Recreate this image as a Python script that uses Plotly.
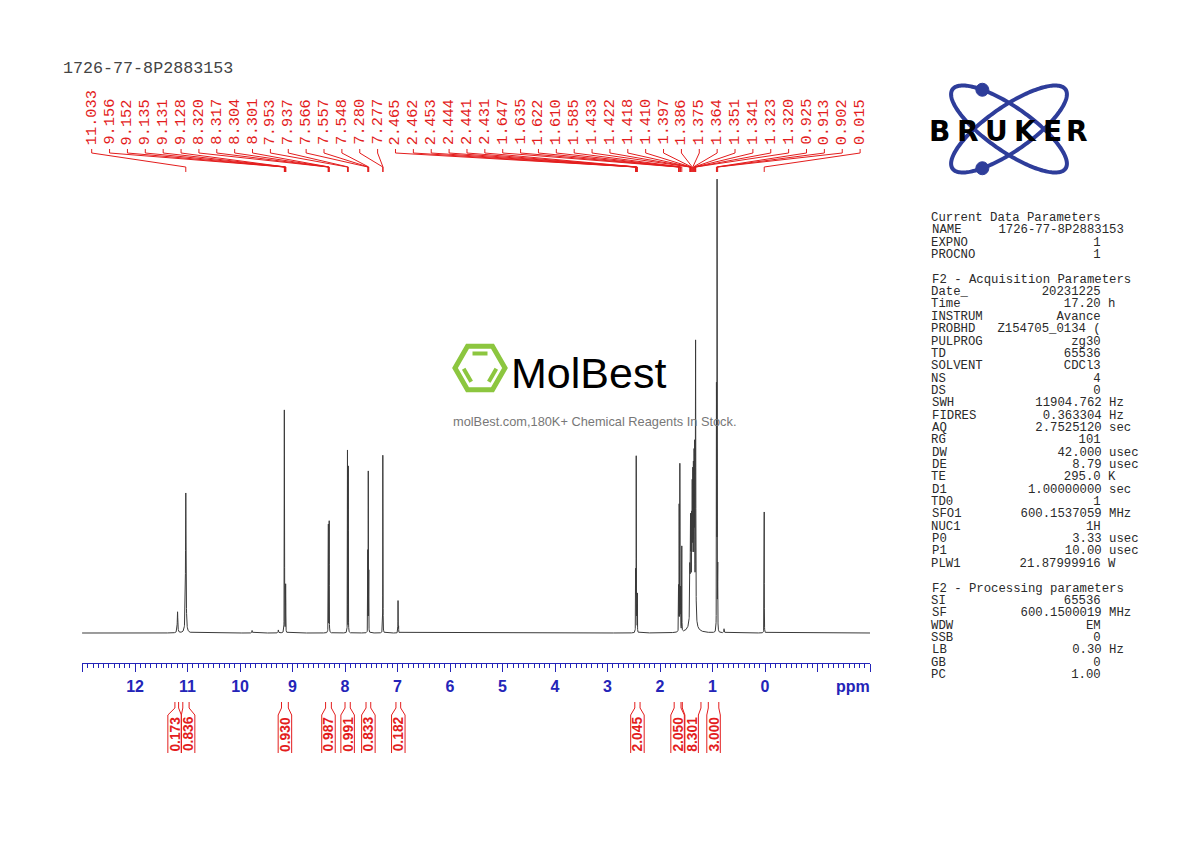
import numpy as np
import plotly.graph_objects as go

# ---------------- data ----------------
sample_name = "1726-77-8P2883153"

# spectrum lines: position (ppm), height (px-units), line width (ppm)
peak_ppm = [11.190, 11.033, 9.770, 9.270,
            9.156, 9.152, 9.135, 9.131, 9.128,
            8.320, 8.317, 8.304, 8.301,
            7.953, 7.937,
            7.566, 7.557, 7.548,
            7.280, 7.277,
            6.990, 6.981,
            2.465, 2.462, 2.453, 2.444, 2.441, 2.431,
            1.647, 1.635, 1.622, 1.610, 1.585,
            1.433, 1.422, 1.418, 1.410, 1.397, 1.386, 1.375, 1.364, 1.351, 1.341, 1.323, 1.320, 1.380,
            0.925, 0.913, 0.902, 0.780,
            0.015]
peak_height = [21, 140, 2.5, 3,
               205, 200, 35, 40, 33,
               85, 95, 90, 98,
               182, 166,
               80, 159, 82,
               160, 120,
               32, 16,
               55, 50, 174, 50, 55, 38,
               45, 125, 165, 120, 85,
               50, 62, 66, 75, 90, 105, 115, 125, 140, 155, 196, 145, 28,
               245, 448, 235, 4,
               121]
peak_width = [0.012, 0.012, 0.01, 0.01,
              0.0025, 0.0025, 0.0025, 0.0025, 0.0025,
              0.0025, 0.0025, 0.0025, 0.0025,
              0.0025, 0.0025,
              0.0025, 0.0025, 0.0025,
              0.0025, 0.0025,
              0.003, 0.003,
              0.0025, 0.0025, 0.0025, 0.0025, 0.0025, 0.0025,
              0.003, 0.003, 0.003, 0.003, 0.003,
              0.006, 0.006, 0.006, 0.006, 0.006, 0.006, 0.006, 0.006, 0.006, 0.006, 0.006, 0.006, 0.08,
              0.0025, 0.0025, 0.0025, 0.01,
              0.003]

# peak pick labels (ppm)
peak_labels = ["11.033", "9.156", "9.152", "9.135", "9.131", "9.128",
               "8.320", "8.317", "8.304", "8.301", "7.953", "7.937",
               "7.566", "7.557", "7.548", "7.280", "7.277",
               "2.465", "2.462", "2.453", "2.444", "2.441", "2.431",
               "1.647", "1.635", "1.622", "1.610", "1.585",
               "1.433", "1.422", "1.418", "1.410", "1.397", "1.386", "1.375",
               "1.364", "1.351", "1.341", "1.323", "1.320",
               "0.925", "0.913", "0.902", "0.015"]

# integrals
integral_values = ["0.173", "0.836", "0.930", "0.987", "0.991", "0.833", "0.182",
                   "2.045", "2.050", "8.301", "3.000"]
integral_from = [11.24, 11.09, 9.21, 8.37, 8.00, 7.60, 7.03, 2.48, 1.73, 1.575, 1.08]
integral_to = [11.17, 10.97, 9.08, 8.26, 7.90, 7.51, 6.94, 2.38, 1.60, 1.22, 0.88]

# axis ticks
tick_values = list(range(-2, 14))
tick_labels = [str(v) if 0 <= v <= 12 else "" for v in tick_values]

# parameter block
current_params = [("NAME", "1726-77-8P2883153", ""), ("EXPNO", "1", ""), ("PROCNO", "1", "")]
acq_params = [("Date_", "20231225", ""), ("Time", "17.20", "h"), ("INSTRUM", "Avance", ""),
              ("PROBHD", "Z154705_0134 (", ""), ("PULPROG", "zg30", ""), ("TD", "65536", ""),
              ("SOLVENT", "CDCl3", ""), ("NS", "4", ""), ("DS", "0", ""),
              ("SWH", "11904.762", "Hz"), ("FIDRES", "0.363304", "Hz"), ("AQ", "2.7525120", "sec"),
              ("RG", "101", ""), ("DW", "42.000", "usec"), ("DE", "8.79", "usec"),
              ("TE", "295.0", "K"), ("D1", "1.00000000", "sec"), ("TD0", "1", ""),
              ("SFO1", "600.1537059", "MHz"), ("NUC1", "1H", ""), ("P0", "3.33", "usec"),
              ("P1", "10.00", "usec"), ("PLW1", "21.87999916", "W")]
proc_params = [("SI", "65536", ""), ("SF", "600.1500019", "MHz"), ("WDW", "EM", ""),
               ("SSB", "0", ""), ("LB", "0.30", "Hz"), ("GB", "0", ""), ("PC", "1.00", "")]

# ---------------- layout constants ----------------
AX_LEFT, AX_RIGHT = 13.01, -2.0
PL, PW, PT, PH = 82, 788, 175, 488
RED = "#e31d1d"
BLUE = "#2424b8"
MONO = "Liberation Mono, Courier New, monospace"
SANS = "Liberation Sans, Arial, sans-serif"


def px_to_ppm(px):
    return AX_LEFT - (px - PL) / PW * (AX_LEFT - AX_RIGHT)


def ppm_per_px():
    return (AX_LEFT - AX_RIGHT) / PW


def pxp(px):
    return (px - PL) / PW


def pyp(py):
    return (PT + PH - py) / PH


# ---------------- spectrum ----------------
pp = np.array(peak_ppm)
hh = np.array(peak_height, dtype=float)
ww = np.array(peak_width)
offs = np.array([-12, -6, -3, -2, -1.5, -1, -0.6, -0.3, -0.1, 0, 0.1, 0.3, 0.6, 1, 1.5, 2, 3, 6, 12])
grid = np.arange(AX_RIGHT, AX_LEFT, 0.002)
extra = (pp[:, None] + offs[None, :] * ww[:, None]).ravel()
xs = np.unique(np.concatenate([grid, extra, pp]))
ys = np.zeros_like(xs)
for p, h, w in zip(pp, hh, ww):
    ys += h / (1.0 + ((xs - p) / (w / 2.0)) ** 2)

fig = go.Figure()
fig.add_trace(go.Scatter(x=xs, y=ys, mode="lines", line=dict(color="#3a3a3a", width=1),
                         hoverinfo="skip", showlegend=False))

shapes = []
annotations = []

# ---------------- peak labels + connectors ----------------
lab_x0, lab_dx = 91.7, 17.87
conn = []
for i, lab in enumerate(peak_labels):
    lx = px_to_ppm(lab_x0 + lab_dx * i)
    v = float(lab)
    annotations.append(dict(x=lx, xref="x", y=pyp(146), yref="paper", text=lab, textangle=-90,
                            xanchor="center", yanchor="bottom", showarrow=False, borderpad=0,
                            font=dict(family=MONO, size=15.3, color=RED)))
    conn.append(f"M{lx:.5f},{pyp(149):.5f} L{lx:.5f},{pyp(153):.5f} "
                f"L{v:.5f},{pyp(167):.5f} L{v:.5f},{pyp(172):.5f}")
shapes.append(dict(type="path", xref="x", yref="paper", path=" ".join(conn),
                   line=dict(color=RED, width=1)))

# ---------------- integrals ----------------
box_w = 13.5 * ppm_per_px()
centers = [(a + b) / 2 for a, b in zip(integral_from, integral_to)]
pos = list(centers)
changed = True
while changed:
    changed = False
    clusters = [[0]]
    for k in range(1, len(pos)):
        if pos[clusters[-1][-1]] - pos[k] < box_w - 1e-9:
            clusters[-1].append(k)
        else:
            clusters.append([k])
    for cl in clusters:
        if len(cl) > 1:
            m = np.mean([centers[k] for k in cl])
            n = len(cl)
            for j, k in enumerate(cl):
                newp = m + ((n - 1) / 2 - j) * box_w
                if abs(newp - pos[k]) > 1e-9:
                    pos[k] = newp
                    changed = True
ipath = []
for k, val in enumerate(integral_values):
    a, b = integral_from[k], integral_to[k]
    c = pos[k]
    l, r = c + box_w / 2, c - box_w / 2
    ipath.append(f"M{a:.5f},{pyp(702):.5f} L{a:.5f},{pyp(708):.5f} L{l:.5f},{pyp(715):.5f} L{l:.5f},{pyp(753):.5f}")
    ipath.append(f"M{b:.5f},{pyp(702):.5f} L{b:.5f},{pyp(708):.5f} L{r:.5f},{pyp(715):.5f} L{r:.5f},{pyp(753):.5f}")
    annotations.append(dict(x=c, xref="x", y=pyp(734), yref="paper", text=val, textangle=-90,
                            xanchor="center", yanchor="middle", showarrow=False, borderpad=0,
                            font=dict(family=SANS, size=13.8, color=RED, weight="bold")))
shapes.append(dict(type="path", xref="x", yref="paper", path=" ".join(ipath),
                   line=dict(color=RED, width=1)))

# ---------------- ppm unit ----------------
annotations.append(dict(x=pxp(853), xref="paper", y=pyp(686), yref="paper", text="ppm",
                        showarrow=False, xanchor="center", yanchor="middle",
                        font=dict(family=SANS, size=16, color=BLUE, weight="bold")))

# ---------------- title ----------------
annotations.append(dict(x=pxp(61), xref="paper", y=pyp(68), yref="paper", text=sample_name,
                        showarrow=False, xanchor="left", yanchor="middle",
                        font=dict(family=MONO, size=16.7, color="#444444")))

# ---------------- parameter block ----------------
NB = "\u00a0"


def fmt(label, value, unit):
    s = label.ljust(max(9, 23 - len(value))) + value
    if unit:
        s += " " + unit
    return s.replace(" ", NB)


lines = ["Current Data Parameters"] + [fmt(*p) for p in current_params] + [""] + \
        ["F2 - Acquisition Parameters"] + [fmt(*p) for p in acq_params] + [""] + \
        ["F2 - Processing parameters"] + [fmt(*p) for p in proc_params]
for r, s in enumerate(lines):
    if not s:
        continue
    annotations.append(dict(x=pxp(930.5), xref="paper", y=pyp(218 + 12.35 * r), yref="paper",
                            text=s.replace(" ", NB), showarrow=False, xanchor="left", yanchor="middle",
                            borderpad=0, font=dict(family=MONO, size=12.3, color="#2a2a2a")))

# ---------------- Bruker logo ----------------
LB = "#2e3d9a"
cx, cy, a_, b_ = 1009, 129, 69, 22
t = np.linspace(0, 2 * np.pi, 181)
dots = []
for ang, target in ((35, (982, 92)), (-35, (982, 168))):
    th = np.radians(ang)
    ex = cx + a_ * np.cos(t) * np.cos(th) - b_ * np.sin(t) * np.sin(th)
    ey = cy + a_ * np.cos(t) * np.sin(th) + b_ * np.sin(t) * np.cos(th)
    path = "M" + " L".join(f"{pxp(x):.5f},{pyp(y):.5f}" for x, y in zip(ex, ey)) + " Z"
    shapes.append(dict(type="path", xref="paper", yref="paper", path=path, line=dict(color=LB, width=4)))
    j = int(np.argmin((ex - target[0]) ** 2 + (ey - target[1]) ** 2))
    dots.append((ex[j], ey[j]))
for dx, dy in dots:
    shapes.append(dict(type="circle", xref="paper", yref="paper", x0=pxp(dx - 6.5), x1=pxp(dx + 6.5),
                       y0=pyp(dy + 6.5), y1=pyp(dy - 6.5), fillcolor=LB, line=dict(color=LB, width=1)))
for ch, lx in zip("BRUKER", [939.5, 967.5, 996.5, 1025, 1052, 1076.5]):
    annotations.append(dict(x=pxp(lx), xref="paper", y=pyp(131), yref="paper", text=ch,
                            showarrow=False, xanchor="center", yanchor="middle",
                            font=dict(family="DejaVu Sans, Liberation Sans", size=28, color="black",
                                      weight="bold")))

# ---------------- MolBest watermark ----------------
GR = "#8cc63f"
hx, hy, R = 480, 368, 25
va = np.radians(np.arange(0, 360, 60))
vx = hx + R * np.cos(va)
vy = hy + R * np.sin(va)
hpath = "M" + " L".join(f"{pxp(x):.5f},{pyp(y):.5f}" for x, y in zip(vx, vy)) + " Z"
shapes.append(dict(type="path", xref="paper", yref="paper", path=hpath, line=dict(color=GR, width=5)))
for i0 in (4, 0, 2):
    i1 = (i0 + 1) % 6
    x0, y0, x1, y1 = vx[i0], vy[i0], vx[i1], vy[i1]
    mx, my = (x0 + x1) / 2, (y0 + y1) / 2
    sx, sy = (hx - mx) * 0.33, (hy - my) * 0.33
    x0i, y0i = x0 + sx + (x1 - x0) * 0.2, y0 + sy + (y1 - y0) * 0.2
    x1i, y1i = x1 + sx - (x1 - x0) * 0.2, y1 + sy - (y1 - y0) * 0.2
    shapes.append(dict(type="line", xref="paper", yref="paper", x0=pxp(x0i), y0=pyp(y0i),
                       x1=pxp(x1i), y1=pyp(y1i), line=dict(color=GR, width=4)))
annotations.append(dict(x=pxp(509), xref="paper", y=pyp(373), yref="paper", text="MolBest",
                        showarrow=False, xanchor="left", yanchor="middle",
                        font=dict(family="Liberation Sans Narrow, Liberation Sans", size=43, color="black")))
annotations.append(dict(x=pxp(594), xref="paper", y=pyp(421), yref="paper",
                        text="molBest.com,180K+ Chemical Reagents In Stock.",
                        showarrow=False, xanchor="center", yanchor="middle",
                        font=dict(family=SANS, size=12.8, color="#777777")))

fig.update_layout(
    width=1190, height=842,
    margin=dict(l=PL, r=1190 - PL - PW, t=PT, b=842 - PT - PH, pad=0),
    paper_bgcolor="white", plot_bgcolor="white", showlegend=False,
    shapes=shapes, annotations=annotations,
    xaxis=dict(range=[AX_LEFT, AX_RIGHT], tickmode="array", tickvals=tick_values, ticktext=tick_labels,
               ticks="outside", ticklen=8, tickwidth=1, tickcolor=BLUE, showline=True, linecolor=BLUE,
               linewidth=1, showgrid=False, zeroline=False, fixedrange=True, ticklabelstandoff=1,
               tickfont=dict(family=SANS, size=16, color=BLUE, weight="bold"),
               minor=dict(tickmode="linear", tick0=0, dtick=0.1, ticks="outside", ticklen=4,
                          tickwidth=1, tickcolor=BLUE, showgrid=False)),
    yaxis=dict(range=[-30, 458], visible=False, fixedrange=True),
)

fig.write_html("out.html")
